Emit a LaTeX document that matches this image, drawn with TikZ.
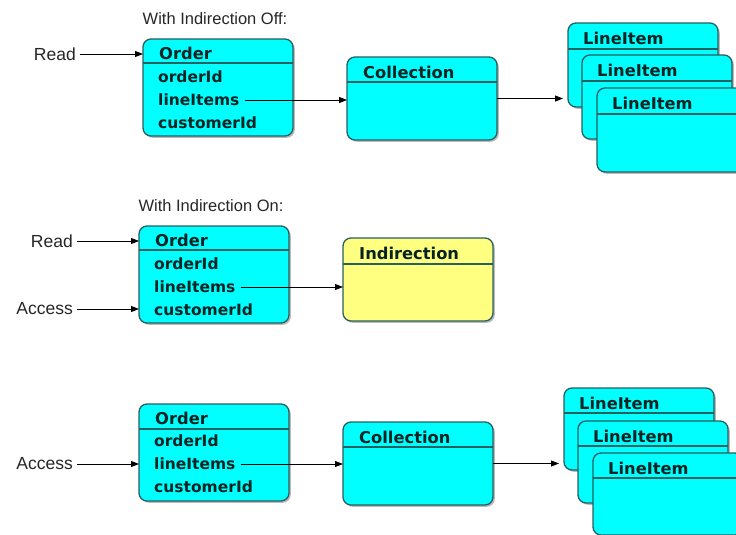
\documentclass[tikz,border=0pt]{standalone}
\usepackage{fontspec}
\newfontfamily\entfont{DejaVu Sans}
\newfontfamily\capfont{Liberation Sans}
\usetikzlibrary{arrows.meta,shadows,positioning}
\definecolor{entcyan}{RGB}{0,255,255}
\definecolor{entyellow}{RGB}{255,255,128}
\definecolor{entrim}{RGB}{40,95,95}
\definecolor{enttext}{RGB}{5,35,35}

\tikzset{
  ent/.style={draw=entrim, line width=1.3pt, rounded corners=8pt, fill=entcyan,
    anchor=north west, outer sep=0pt, inner sep=0pt,
    minimum width=150pt, minimum height=84pt,
    drop shadow={shadow xshift=1.8pt, shadow yshift=-1.8pt, fill=black!45, opacity=0.6}},
  enthead/.style={font=\entfont\bfseries\fontsize{16.3}{19}\selectfont, text=enttext,
    anchor=west, inner sep=0pt},
  fld/.style={enthead, font=\entfont\bfseries\fontsize{15.5}{18}\selectfont, inner sep=2pt},
  sep/.style={draw=entrim, line width=1.2pt},
  caption/.style={font=\capfont\fontsize{16.5}{19}\selectfont, text=black!85, inner sep=0pt},
  lbl/.style={font=\capfont\fontsize{17.5}{20}\selectfont, text=black!85, anchor=east, inner sep=0pt},
  flow/.style={draw=black, line width=0.9pt, -{Triangle[length=8pt,width=6pt]}}
}

\begin{document}
\begin{tikzpicture}[x=1pt,y=-1pt]
\useasboundingbox (0,0) rectangle (736,535);

% indirection off
\node[caption] (capoff) at (215,19) {With Indirection Off:};
\node[ent, minimum height=97pt] (ord1) at (143,39) {};
\draw[sep] ([yshift=-24pt]ord1.north west) -- ([yshift=-24pt]ord1.north east);
\node[enthead] (ord1t) at ([xshift=16pt,yshift=-14pt]ord1.north west) {Order};
\node[fld] (ord1id) at ([xshift=13pt,yshift=-38pt]ord1.north west) {orderId};
\node[fld] (ord1li) at ([xshift=13pt,yshift=-61pt]ord1.north west) {lineItems};
\node[fld] (ord1ci) at ([xshift=13pt,yshift=-84pt]ord1.north west) {customerId};

\node[ent, minimum height=83pt] (col1) at (347,57) {};
\draw[sep] ([yshift=-25pt]col1.north west) -- ([yshift=-25pt]col1.north east);
\node[enthead] (col1t) at ([xshift=16pt,yshift=-15pt]col1.north west) {Collection};

\foreach \n/\x/\y in {a/568/23, b/582/55, c/597/88}{
  \node[ent] (item1\n) at (\x,\y) {};
  \draw[sep] ([yshift=-26pt]item1\n.north west) -- ([yshift=-26pt]item1\n.north east);
  \node[enthead] (item1\n t) at ([xshift=15pt,yshift=-15pt]item1\n.north west) {LineItem};
}

\node[lbl] (read1) at (76,54) {Read};
\draw[flow, shorten <=4pt] (read1.east) -- (read1.east -| ord1.west);
\draw[flow, shorten <=3pt] (ord1li.east) -- (ord1li.east -| col1.west);
\draw[flow, shorten >=5pt] (col1.east) -- (col1.east -| item1a.west);

% indirection on
\node[caption] (capon) at (211,206) {With Indirection On:};
\node[ent, minimum height=97pt] (ord2) at (139,226) {};
\draw[sep] ([yshift=-24pt]ord2.north west) -- ([yshift=-24pt]ord2.north east);
\node[enthead] (ord2t) at ([xshift=16pt,yshift=-14pt]ord2.north west) {Order};
\node[fld] (ord2id) at ([xshift=13pt,yshift=-38pt]ord2.north west) {orderId};
\node[fld] (ord2li) at ([xshift=13pt,yshift=-61pt]ord2.north west) {lineItems};
\node[fld] (ord2ci) at ([xshift=13pt,yshift=-84pt]ord2.north west) {customerId};

\node[ent, minimum height=83pt, fill=entyellow] (ind2) at (343,238) {};
\draw[sep] ([yshift=-26pt]ind2.north west) -- ([yshift=-26pt]ind2.north east);
\node[enthead] (ind2t) at ([xshift=16pt,yshift=-15pt]ind2.north west) {Indirection};

\node[lbl] (read2) at (73,241) {Read};
\node[lbl] (acc2) at (73,309) {Access};
\draw[flow, shorten <=4pt] (read2.east) -- (read2.east -| ord2.west);
\draw[flow, shorten <=4pt] (acc2.east) -- (acc2.east -| ord2.west);
\draw[flow, shorten <=3pt] (ord2li.east) -- (ord2li.east -| ind2.west);

% after access
\node[ent, minimum height=97pt] (ord3) at (139,404) {};
\draw[sep] ([yshift=-25pt]ord3.north west) -- ([yshift=-25pt]ord3.north east);
\node[enthead] (ord3t) at ([xshift=16pt,yshift=-14pt]ord3.north west) {Order};
\node[fld] (ord3id) at ([xshift=13pt,yshift=-37pt]ord3.north west) {orderId};
\node[fld] (ord3li) at ([xshift=13pt,yshift=-60pt]ord3.north west) {lineItems};
\node[fld] (ord3ci) at ([xshift=13pt,yshift=-83pt]ord3.north west) {customerId};

\node[ent, minimum height=83pt] (col3) at (343,422) {};
\draw[sep] ([yshift=-25pt]col3.north west) -- ([yshift=-25pt]col3.north east);
\node[enthead] (col3t) at ([xshift=16pt,yshift=-15pt]col3.north west) {Collection};

\foreach \n/\x/\y in {a/564/388, b/578/421, c/593/453}{
  \node[ent, minimum height=82pt] (item3\n) at (\x,\y) {};
  \draw[sep] ([yshift=-25pt]item3\n.north west) -- ([yshift=-25pt]item3\n.north east);
  \node[enthead] (item3\n t) at ([xshift=15pt,yshift=-15pt]item3\n.north west) {LineItem};
}

\node[lbl] (acc3) at (73,464) {Access};
\draw[flow, shorten <=4pt] (acc3.east) -- (acc3.east -| ord3.west);
\draw[flow, shorten <=3pt] (ord3li.east) -- (ord3li.east -| col3.west);
\draw[flow, shorten >=5pt] (col3.east) -- (col3.east -| item3a.west);
\end{tikzpicture}
\end{document}
